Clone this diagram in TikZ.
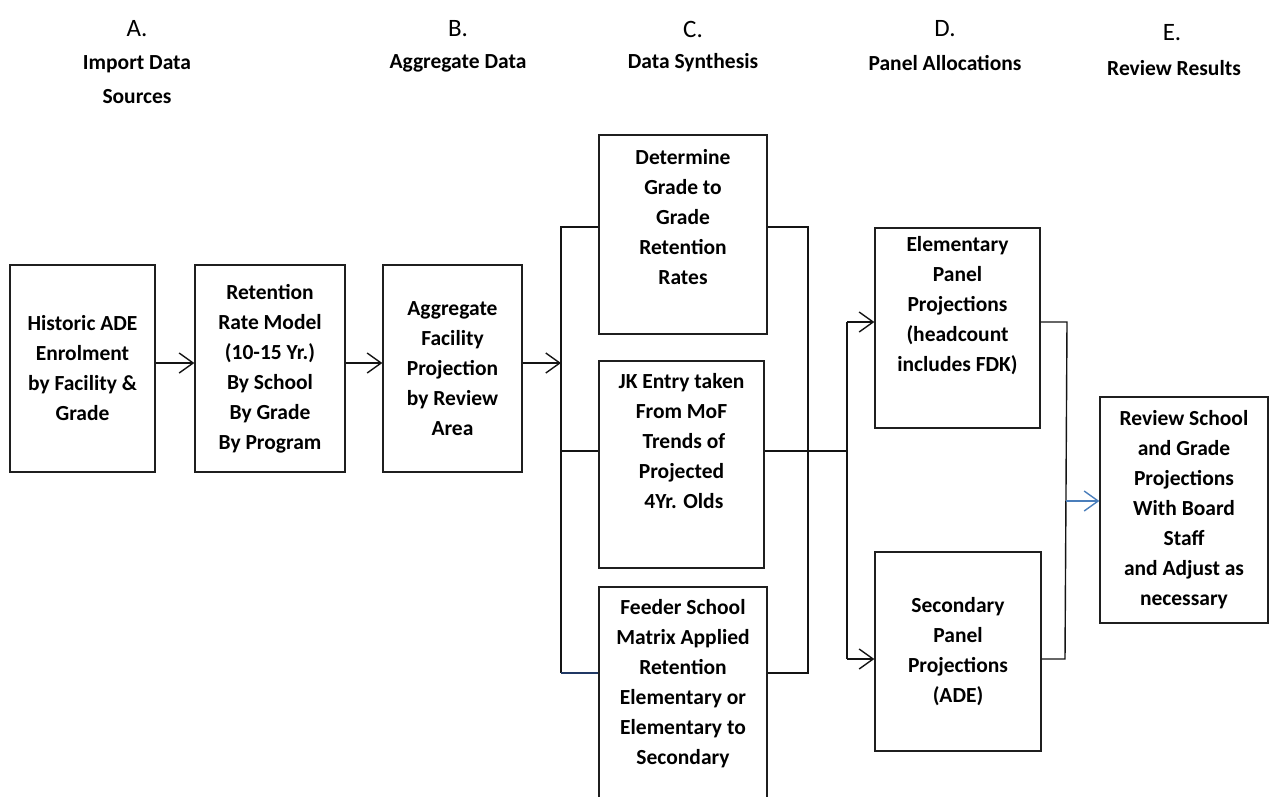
\documentclass[tikz,border=0pt]{standalone}
\usepackage{fontspec}
\setmainfont{Carlito}
\usetikzlibrary{arrows.meta}
\definecolor{bluearrow}{HTML}{4A7EBB}
\definecolor{navyline}{HTML}{203864}
\begin{document}
\begin{tikzpicture}[x=1pt,y=-1pt,
  box/.style={draw=black!88, line width=1.3pt, inner sep=0pt, align=center,
    font=\bfseries\fontsize{21.5}{30}\selectfont},
  txt/.style={font=\bfseries\fontsize{21.5}{30}\selectfont, align=center, inner sep=0pt},
  conn/.style={line width=1.4pt, black!92},
  arr/.style={conn, -{Straight Barb[length=14pt,width=20pt]}},
  head/.style={font=\fontsize{25}{30}\selectfont, inner sep=0pt},
  headb/.style={font=\bfseries\fontsize{21.5}{34}\selectfont, align=center, inner sep=0pt}]
\useasboundingbox (0,0) rectangle (1269,796);
\clip (0,0) rectangle (1269,796);
% headers
\node[head] (hA) at (137,29) {A.};
\node[headb] (hA2) at (137,80) {Import Data\\Sources};
\node[head] (hB) at (458,29) {B.};
\node[headb] (hB2) at (458,63) {Aggregate Data};
\node[head] (hC) at (693,29) {C.};
\node[headb] (hC2) at (693,63) {Data Synthesis};
\node[head] (hD) at (945,29) {D.};
\node[headb] (hD2) at (945,63) {Panel Allocations};
\node[head] (hE) at (1172,33) {E.};
\node[headb] (hE2) at (1174,68) {Review Results};
% column A/B boxes
\node[box, minimum width=145pt, minimum height=207pt] (b1) at (82.5,368.5)
  {Historic ADE\\Enrolment\\by Facility \&\\Grade};
\node[box, minimum width=150pt, minimum height=207pt] (b2) at (270,368.5)
  {Retention\\Rate Model\\(10-15 Yr.)\\By School\\By Grade\\By Program};
\node[box, minimum width=139pt, minimum height=207pt] (b3) at (452.5,368.5)
  {Aggregate\\Facility\\Projection\\by Review\\Area};
% column C boxes
\node[box, minimum width=168pt, minimum height=199pt] (top) at (683,234.5) {};
\node[txt, anchor=north] (toptxt) at (683,149)
  {Determine\\Grade to\\Grade\\Retention\\Rates};
\node[box, minimum width=165pt, minimum height=207pt] (mid) at (681.5,464.5) {};
\node[txt, anchor=north] (midtxt) at (681.5,373)
  {JK Entry taken\\From MoF\\\hspace*{.22em}Trends of\\Projected\\\hspace*{.22em}4Yr. Olds};
\node[box, minimum width=168pt, minimum height=253pt] (bot) at (683,713.5) {};
\node[txt, anchor=north] (bottxt) at (683,599)
  {Feeder School\\Matrix Applied\\Retention\\Elementary or\\Elementary to\\Secondary};
% column D boxes
\node[box, minimum width=165pt, minimum height=200pt] (elem) at (957.5,328) {};
\node[txt, anchor=north] (elemtxt) at (957.5,236)
  {Elementary\\Panel\\Projections\\(headcount\\includes FDK)};
\node[box, minimum width=166pt, minimum height=199pt] (sec) at (958,651.5)
  {Secondary\\Panel\\Projections\\(ADE)};
% column E box
\node[box, minimum width=168pt, minimum height=226pt] (rev) at (1184,510)
  {Review School\\and Grade\\Projections\\With Board\\Staff\\and Adjust as\\necessary};
% coordinates
\coordinate (ay) at (0,363);
\coordinate (LT) at (561,227);
\coordinate (LA) at (561,363);
\coordinate (LM) at (561,451);
\coordinate (LB) at (561,673);
\coordinate (RT) at (808,227);
\coordinate (RB) at (808,673);
\coordinate (DM) at (847,451);
\coordinate (DT) at (847,322);
\coordinate (DB) at (847,659);
\coordinate (ET) at (1067,322);
\coordinate (EB) at (1065,659);
\coordinate (EA) at (1066,501);
% connectors
\draw[arr] (b1.east |- ay) -- (b2.west |- ay);
\draw[arr] (b2.east |- ay) -- (b3.west |- ay);
\draw[arr] (b3.east |- ay) -- (LA);
\draw[conn] (top.west |- LT) -- (LT) -- (LB);
\draw[conn] (LM) -- (mid.west |- LM);
\draw[conn, navyline] (LB) -- (bot.west |- LB);
\draw[conn] (top.east |- RT) -- (RT) -- (RB) -- (bot.east |- RB);
\draw[conn] (mid.east |- DM) -- (DM);
\draw[conn] (DT) -- (DB);
\draw[arr] (DT) -- (elem.west |- DT);
\draw[arr] (DB) -- (sec.west |- DB);
\draw[conn] (elem.east |- ET) -- (ET) -- (EB) -- (sec.east |- EB);
\draw[arr, bluearrow] (EA) -- (rev.west |- EA);
\end{tikzpicture}
\end{document}
